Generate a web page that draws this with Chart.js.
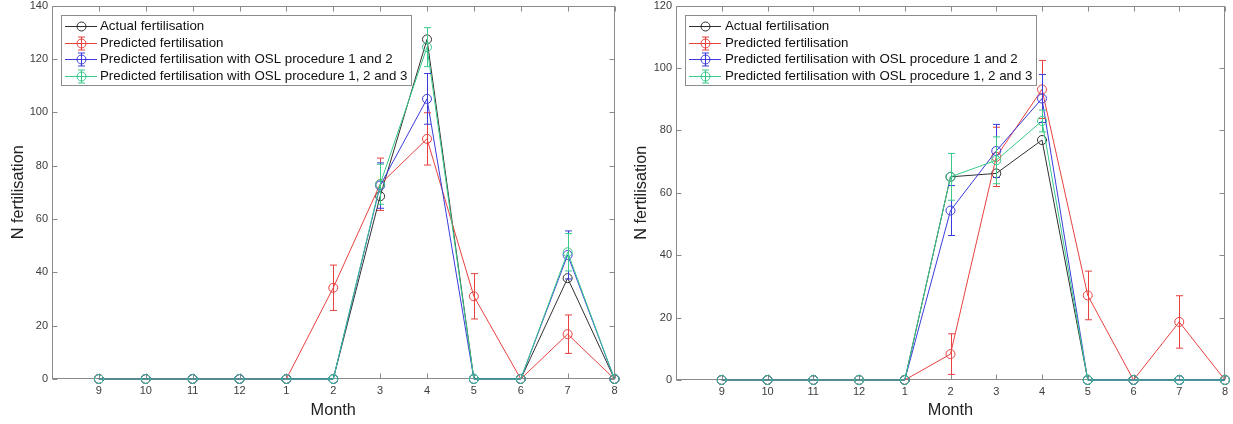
<!DOCTYPE html>
<html>
<head>
<meta charset="utf-8">
<script src="https://cdn.jsdelivr.net/npm/chart.js@4.4.1/dist/chart.umd.min.js"></script>
<style>
  body { margin: 0; background: #fff; width: 1233px; height: 424px; overflow: hidden; position: relative; }
  .panel { position: absolute; top: 0; height: 424px; }
</style>
</head>
<body>
<div class="panel" style="left:0;width:620px"><canvas id="leftChart" width="620" height="424"></canvas></div>
<div class="panel" style="left:620px;width:613px"><canvas id="rightChart" width="613" height="424"></canvas></div>
<script>
// month order on the x axis (Sept -> Aug)
const months = ['9', '10', '11', '12', '1', '2', '3', '4', '5', '6', '7', '8'];
const labels = [
  'Actual fertilisation',
  'Predicted fertilisation',
  'Predicted fertilisation with OSL procedure 1 and 2',
  'Predicted fertilisation with OSL procedure 1, 2 and 3'
];

// left panel
const actualL   = [0, 0, 0, 0, 0, 0,    68.5, 127.3, 0,  0, 37.8, 0];
const predL     = [0, 0, 0, 0, 0, 34.2, 73,   90,    31, 0, 16.8, 0];
const predErrL  = [0, 0, 0, 0, 0, 8.5,  9.8,  9.8,   8.5, 0, 7.2, 0];
const osl12L    = [0, 0, 0, 0, 0, 0,    72.5, 105,   0,  0, 46.5, 0];
const osl12ErrL = [0, 0, 0, 0, 0, 0,    8.5,  9.5,   0,  0, 9,    0];
const osl123L   = [0, 0, 0, 0, 0, 0,    73,   124.4, 0,  0, 47.5, 0];
const osl123ErrL= [0, 0, 0, 0, 0, 0,    7.5,  7.3,   0,  0, 7,    0];

// right panel
const actualR   = [0, 0, 0, 0, 0, 65.1, 66.2, 76.9, 0,    0, 0,    0];
const predR     = [0, 0, 0, 0, 0, 8.3,  71.5, 93.1, 27.1, 0, 18.6, 0];
const predErrR  = [0, 0, 0, 0, 0, 6.5,  9.5,  9.3,  7.8,  0, 8.4,  0];
const osl12R    = [0, 0, 0, 0, 0, 54.3, 73.4, 90.2, 0,    0, 0,    0];
const osl12ErrR = [0, 0, 0, 0, 0, 8,    8.5,  7.7,  0,    0, 0,    0];
const osl123R   = [0, 0, 0, 0, 0, 65.1, 70.4, 83,   0,    0, 0,    0];
const osl123ErrR= [0, 0, 0, 0, 0, 7.5,  7.5,  3.5,  0,    0, 0,    0];

const colors = ['#303030', '#e8413f', '#3b3bdc', '#38c98b'];
const FONT = '"Liberation Sans", Arial, Helvetica, sans-serif';
Chart.defaults.font.family = FONT;

function series(i, values, errors) {
  return {
    label: labels[i],
    data: values.map((v, k) => ({ x: k, y: v })),
    errors: errors,
    borderColor: colors[i],
    backgroundColor: colors[i],
    pointBorderColor: colors[i],
    pointBackgroundColor: 'rgba(0,0,0,0)',
    pointRadius: 4.5,
    pointHoverRadius: 4.5,
    pointBorderWidth: 1,
    borderWidth: 1,
    tension: 0,
    clip: false,
    order: 3 - i
  };
}

// box around the plot with inward ticks, like the original
const framePlugin = {
  id: 'frame',
  beforeDatasetsDraw(chart) {
    const { ctx, chartArea: a, scales: { x, y } } = chart;
    const L = Math.round(a.left) + 0.5, R = Math.round(a.right) - 0.5;
    const T = Math.round(a.top) + 0.5, B = Math.round(a.bottom) - 0.5;
    ctx.save();
    ctx.strokeStyle = '#8a8a8a';
    ctx.lineWidth = 1;
    ctx.strokeRect(L, T, R - L, B - T);
    ctx.beginPath();
    x.ticks.forEach(t => {
      const px = Math.round(x.getPixelForValue(t.value)) + 0.5;
      ctx.moveTo(px, B); ctx.lineTo(px, B - 5);
      ctx.moveTo(px, T); ctx.lineTo(px, T + 5);
    });
    y.ticks.forEach(t => {
      const py = Math.round(y.getPixelForValue(t.value)) + 0.5;
      ctx.moveTo(L, py); ctx.lineTo(L + 5, py);
      ctx.moveTo(R, py); ctx.lineTo(R - 5, py);
    });
    ctx.stroke();
    ctx.restore();
  }
};

const errorBarPlugin = {
  id: 'errorBars',
  afterDatasetsDraw(chart) {
    const { ctx, scales: { x, y } } = chart;
    ctx.save();
    ctx.lineWidth = 1;
    chart.data.datasets.forEach(ds => {
      if (!ds.errors) return;
      ctx.strokeStyle = ds.borderColor;
      ds.data.forEach((p, k) => {
        const e = ds.errors[k];
        if (!e) return;
        const px = Math.round(x.getPixelForValue(p.x)) + 0.5;
        const y1 = y.getPixelForValue(p.y + e);
        const y2 = y.getPixelForValue(p.y - e);
        ctx.beginPath();
        ctx.moveTo(px, y1); ctx.lineTo(px, y2);
        ctx.moveTo(px - 3.5, y1); ctx.lineTo(px + 3.5, y1);
        ctx.moveTo(px - 3.5, y2); ctx.lineTo(px + 3.5, y2);
        ctx.stroke();
      });
    });
    ctx.restore();
  }
};

const legendPlugin = {
  id: 'boxLegend',
  afterDraw(chart, args, opts) {
    const { ctx, chartArea: a } = chart;
    const x0 = Math.round(a.left + opts.dx), y0 = Math.round(a.top + opts.dy);
    ctx.save();
    ctx.fillStyle = '#fff';
    ctx.fillRect(x0, y0, opts.w, opts.h);
    ctx.strokeStyle = '#8c8c8c';
    ctx.lineWidth = 1;
    ctx.strokeRect(x0 + 0.5, y0 + 0.5, opts.w, opts.h);
    ctx.font = '13.3px ' + FONT;
    ctx.textBaseline = 'middle';
    chart.data.datasets.forEach((ds, i) => {
      const cy = Math.round(y0 + 11 + i * 16.67) + 0.5;
      const mx = x0 + 20.5;
      ctx.strokeStyle = ds.borderColor;
      ctx.beginPath();
      ctx.moveTo(x0 + 4, cy); ctx.lineTo(x0 + 36, cy);
      ctx.stroke();
      ctx.beginPath();
      ctx.arc(mx, cy, 4.5, 0, Math.PI * 2);
      ctx.stroke();
      if (ds.errors) {
        ctx.beginPath();
        ctx.moveTo(mx, cy - 6.5); ctx.lineTo(mx, cy + 6.5);
        ctx.moveTo(mx - 3.5, cy - 6.5); ctx.lineTo(mx + 3.5, cy - 6.5);
        ctx.moveTo(mx - 3.5, cy + 6.5); ctx.lineTo(mx + 3.5, cy + 6.5);
        ctx.stroke();
      }
      ctx.fillStyle = '#111';
      ctx.fillText(ds.label, x0 + opts.textX, cy);
    });
    ctx.restore();
  }
};

function makeChart(id, W, area, yMax, yTitlePad, legend, datasets) {
  return new Chart(document.getElementById(id), {
    type: 'line',
    data: { datasets: datasets },
    options: {
      responsive: false,
      animation: false,
      devicePixelRatio: 1,
      layout: { padding: { top: area.top, right: W - area.right, left: 0, bottom: 0 } },
      plugins: { legend: { display: false }, tooltip: { enabled: false }, boxLegend: legend },
      scales: {
        x: {
          type: 'linear',
          min: -1,
          max: 11,
          afterBuildTicks: s => { s.ticks = months.map((m, k) => ({ value: k })); },
          ticks: { callback: v => months[v], autoSkip: false, maxRotation: 0, padding: 5, color: '#3c3c3c', font: { size: 11 } },
          grid: { display: false, drawTicks: false },
          border: { display: false },
          title: { display: true, text: 'Month', color: '#222', font: { size: 16.3 }, padding: { top: 0, bottom: 4 } },
          afterFit: s => { s.height = 424 - area.bottom; s.paddingLeft = 0; s.paddingRight = 0; }
        },
        y: {
          min: 0,
          max: yMax,
          ticks: { stepSize: 20, padding: 4, color: '#3c3c3c', font: { size: 11 } },
          grid: { display: false, drawTicks: false },
          border: { display: false },
          title: { display: true, text: 'N fertilisation', color: '#222', font: { size: 16.3 }, padding: { top: yTitlePad, bottom: 0 } },
          afterFit: s => { s.width = area.left; s.paddingTop = 0; s.paddingBottom = 0; }
        }
      }
    },
    plugins: [framePlugin, errorBarPlugin, legendPlugin]
  });
}

makeChart('leftChart', 620, { left: 52, right: 617, top: 5, bottom: 379 }, 140, 9,
  { dx: 9, dy: 9, w: 350, h: 70, textX: 39 },
  [series(0, actualL, null), series(1, predL, predErrL), series(2, osl12L, osl12ErrL), series(3, osl123L, osl123ErrL)]);

makeChart('rightChart', 613, { left: 56, right: 605, top: 4, bottom: 380 }, 120, 12,
  { dx: 9, dy: 9, w: 351, h: 70, textX: 40 },
  [series(0, actualR, null), series(1, predR, predErrR), series(2, osl12R, osl12ErrR), series(3, osl123R, osl123ErrR)]);
</script>
</body>
</html>
